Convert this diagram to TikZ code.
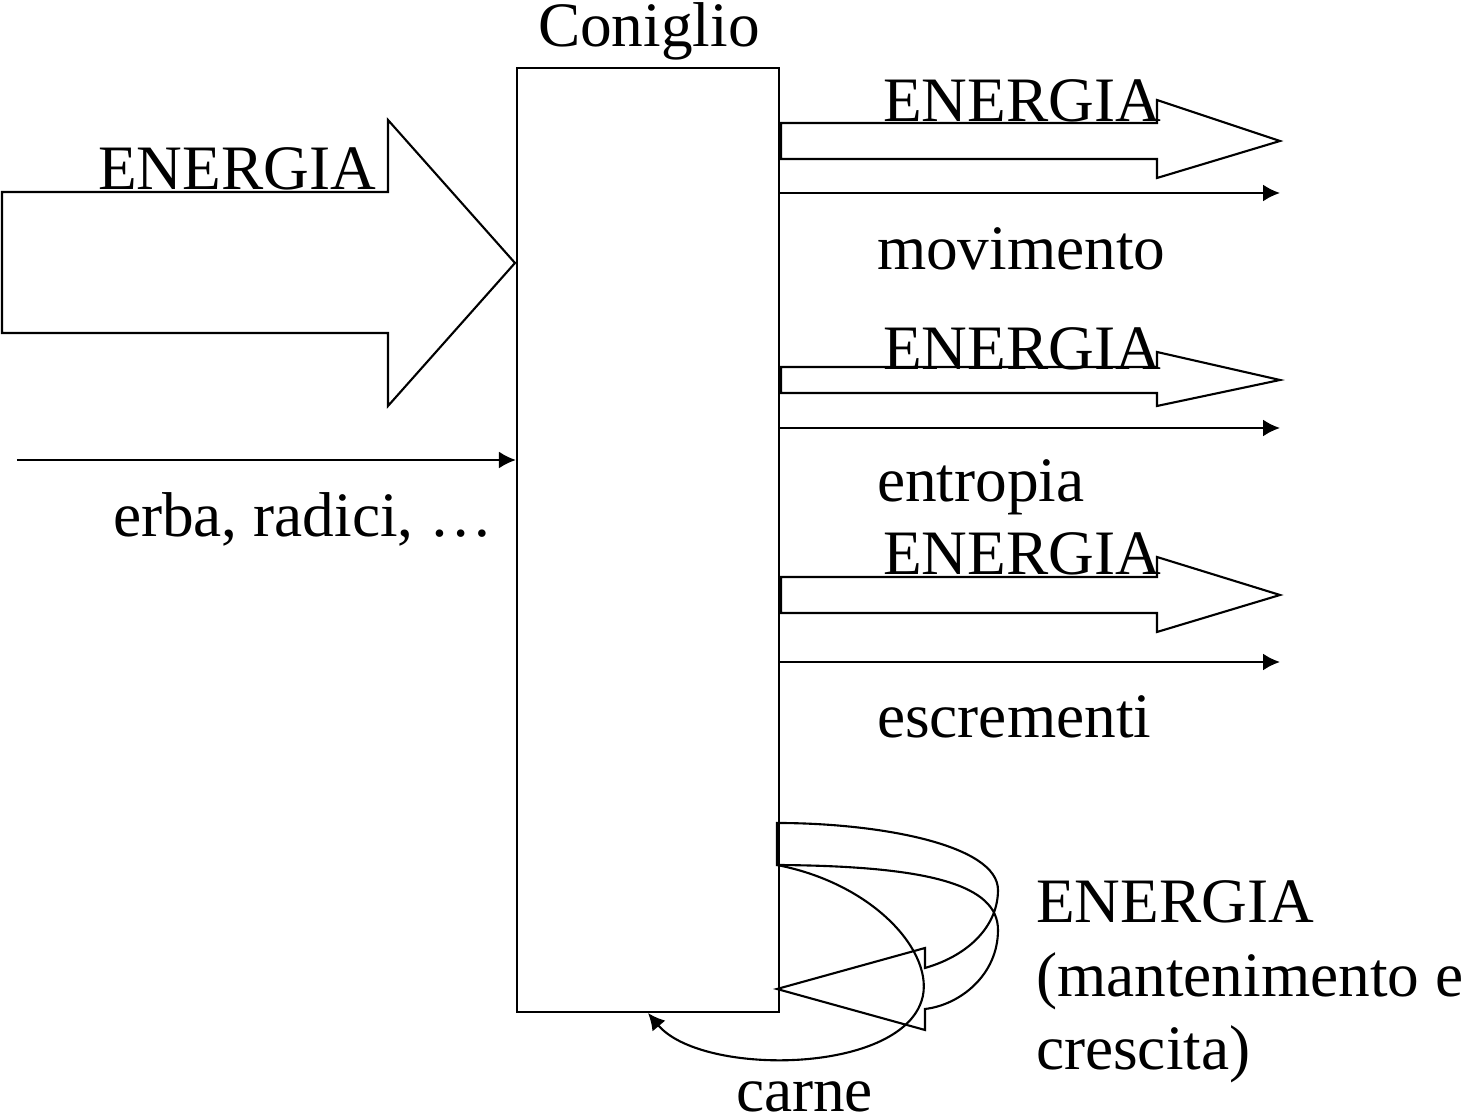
\documentclass[tikz,border=0pt]{standalone}
\usepackage{fontspec}
\setmainfont{Liberation Serif}
\usetikzlibrary{arrows.meta}

\begin{document}
\begin{tikzpicture}[x=0.01cm, y=-0.01cm, line width=0.6pt,
    lbl/.style={anchor=base west, inner sep=0pt, font=\fontsize{18pt}{20.8pt}\selectfont},
    flow/.style={-{Latex[length=4.8pt,width=4.8pt]}}]
  \useasboundingbox (0,0) rectangle (1465,1119);

  % Rabbit box
  \node[draw, minimum width=2.62cm, minimum height=9.44cm, inner sep=0pt] (rabbit) at (648,540) {};
  \node[lbl] (name) at (537,47) {Coniglio};

  % Incoming energy
  \draw (2,192) -- (388,192) -- (388,120) -- (515,263) -- (388,406) -- (388,333) -- (2,333) -- cycle;
  \node[lbl] (ein) at (97,190) {ENERGIA};

  % Food
  \coordinate (food) at (17,460);
  \draw[flow] (food) -- (food -| rabbit.west);
  \node[lbl] (erba) at (112,537) {erba, radici, …};

  % Movement
  \draw (781,123) -- (1157,123) -- (1157,100) -- (1280,141) -- (1157,178) -- (1157,159) -- (781,159) -- cycle;
  \node[lbl] (e1) at (882,122) {ENERGIA};
  \coordinate (mov) at (1280,193);
  \draw[flow] (mov -| rabbit.east) -- (mov);
  \node[lbl] (movl) at (876,270) {movimento};

  % Entropy
  \draw (781,367) -- (1157,367) -- (1157,352) -- (1280,380) -- (1157,406) -- (1157,393) -- (781,393) -- cycle;
  \node[lbl] (e2) at (882,370) {ENERGIA};
  \coordinate (ent) at (1280,428);
  \draw[flow] (ent -| rabbit.east) -- (ent);
  \node[lbl] (entl) at (876,502) {entropia};

  % Excrements
  \draw (781,577) -- (1157,577) -- (1157,557) -- (1280,595) -- (1157,632) -- (1157,613) -- (781,613) -- cycle;
  \node[lbl] (e3) at (882,575) {ENERGIA};
  \coordinate (esc) at (1280,662);
  \draw[flow] (esc -| rabbit.east) -- (esc);
  \node[lbl] (escl) at (876,738) {escrementi};

  % Maintenance and growth
  \draw (777,823) -- (777,865) .. controls (930,866) and (998,885) .. (998,930)
    .. controls (998,975) and (960,1005) .. (925,1009) -- (925,1030) -- (777,989)
    -- (925,948) -- (925,968) .. controls (970,955) and (998,925) .. (998,890)
    .. controls (998,845) and (880,823) .. cycle;
  \node[lbl, anchor=north west, align=left] (e4) at (1035,880) {ENERGIA\\(mantenimento e\\crescita)};

  % Meat
  \coordinate (meat) at (648,1013);
  \draw[flow] (777,865) .. controls (880,885) and (940,960) .. (920,1005)
    .. controls (890,1075) and (700,1075) .. (meat);
  \node[lbl] (carne) at (735,1112) {carne};
\end{tikzpicture}
\end{document}
